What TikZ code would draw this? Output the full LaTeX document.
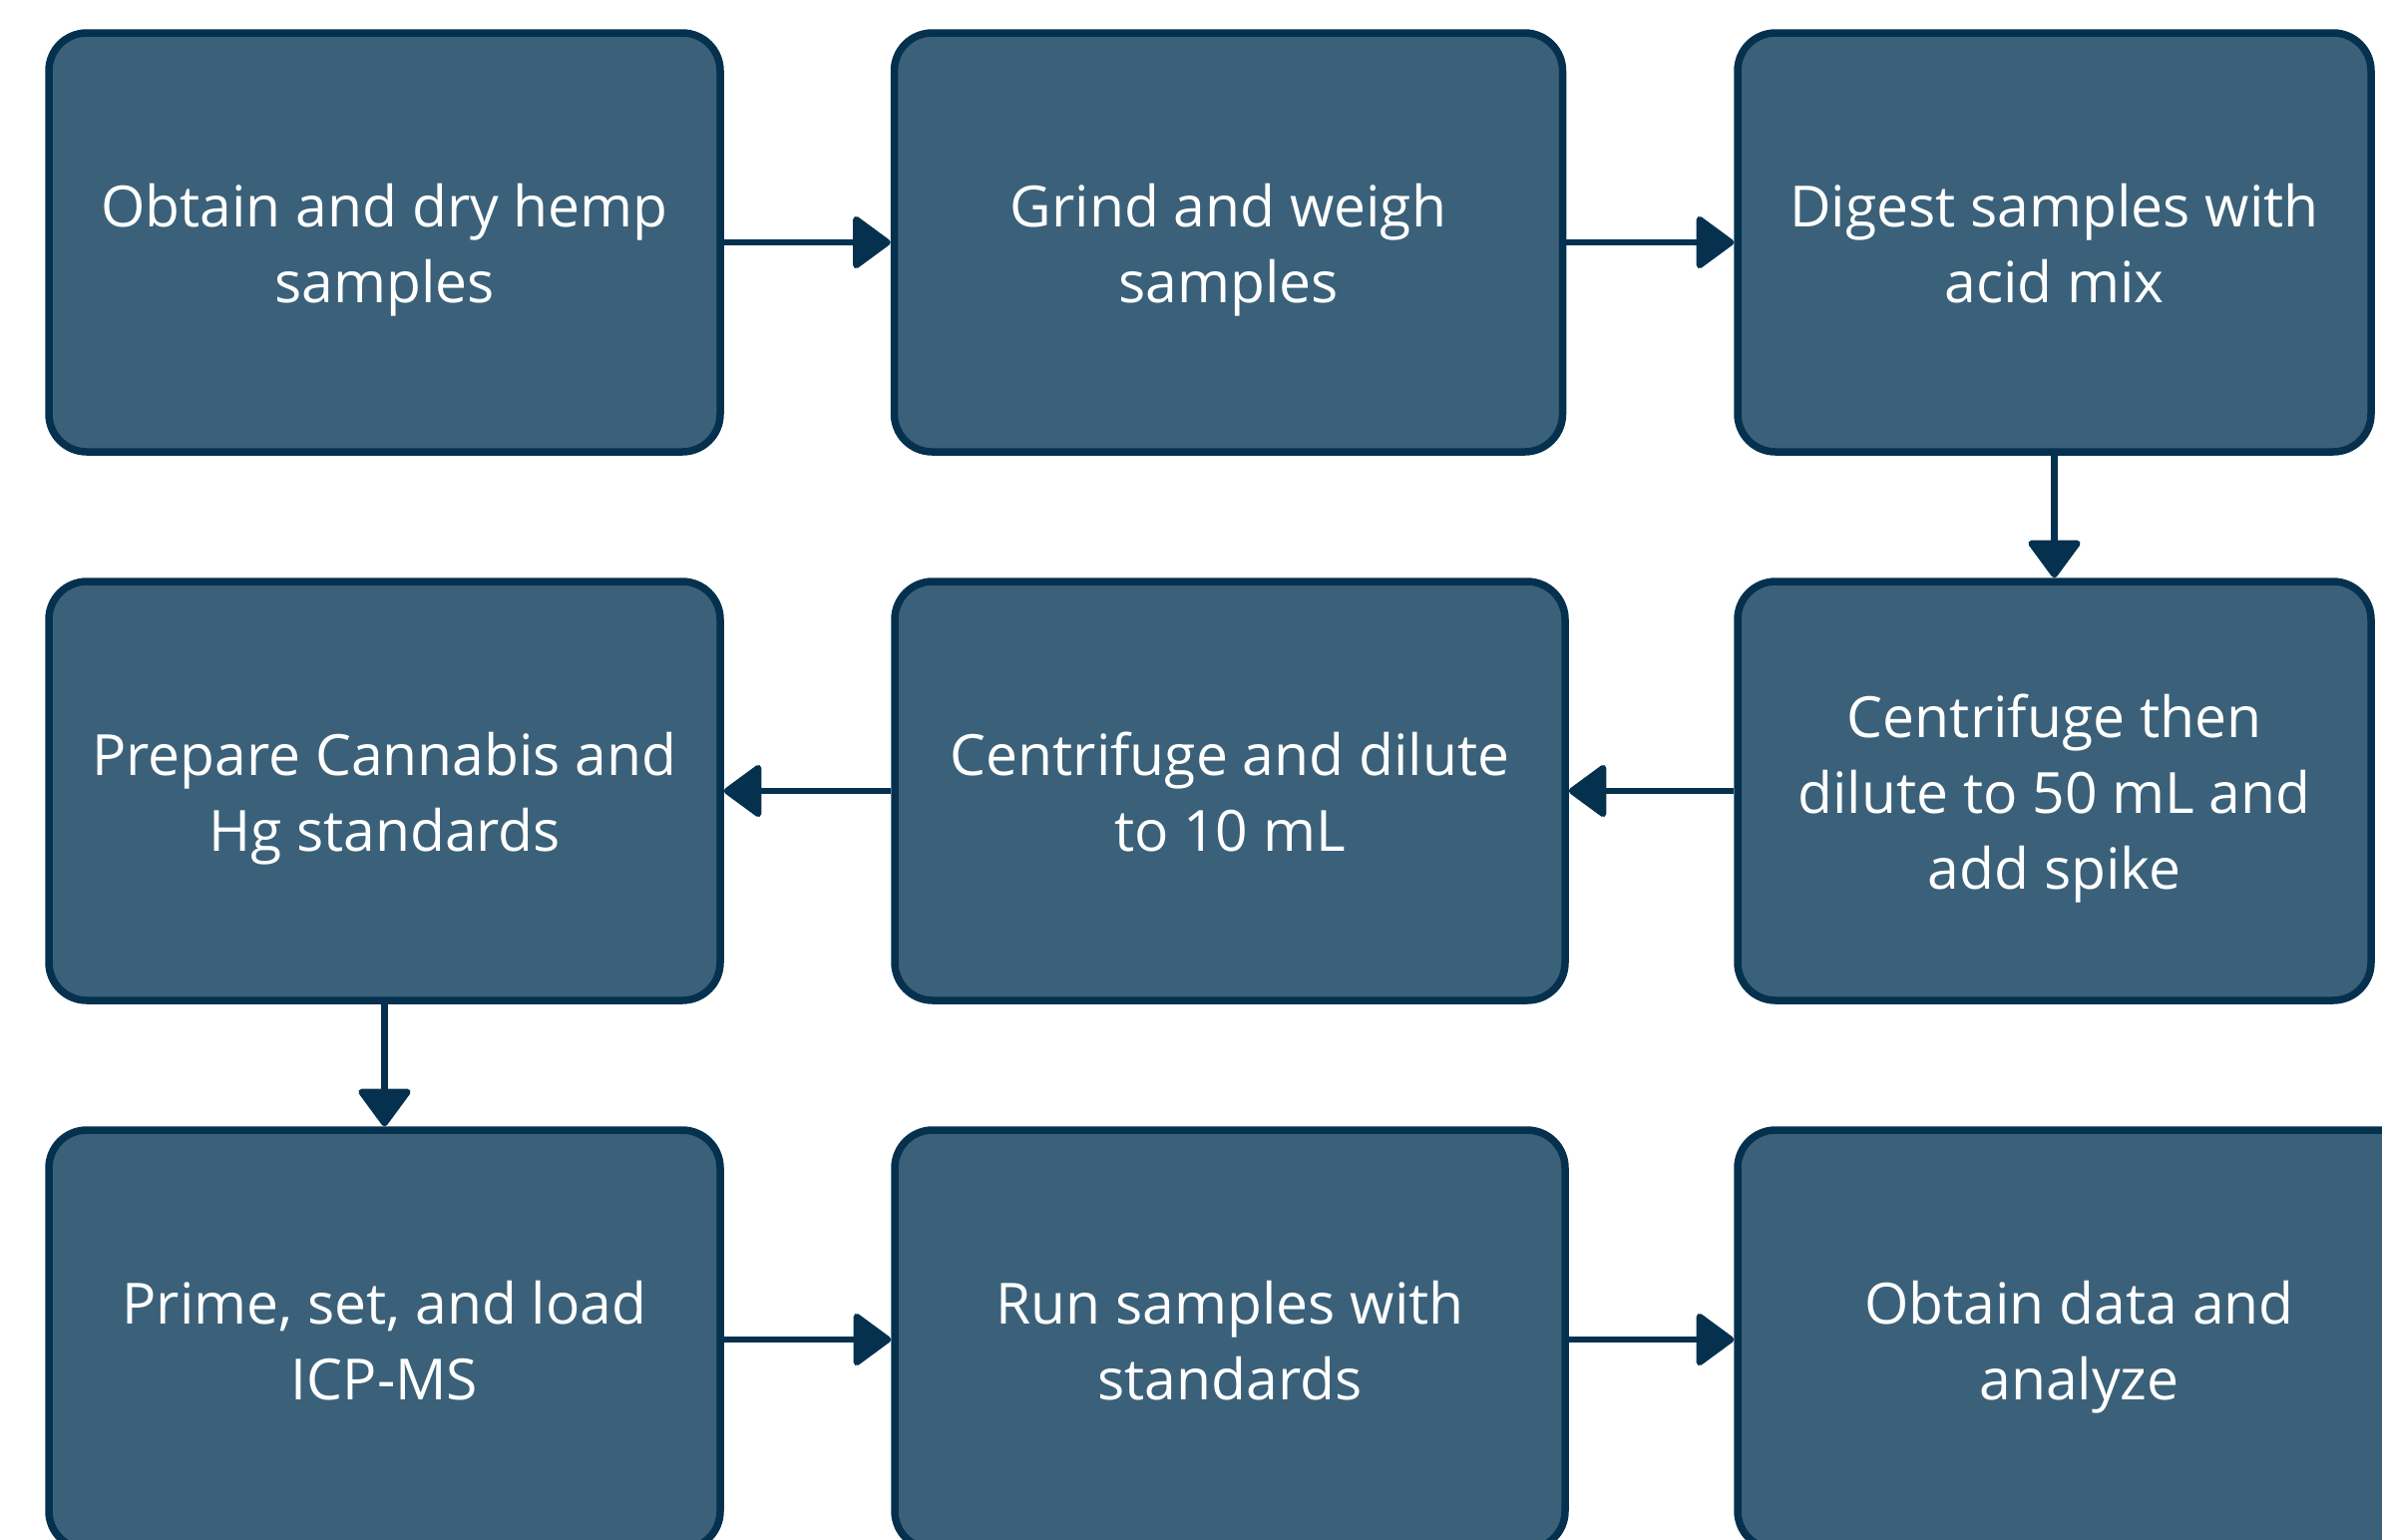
\documentclass[tikz,border=0pt]{standalone}
\usepackage{fontspec}
\setmainfont{Open Sans}
\usetikzlibrary{arrows.meta}
\definecolor{boxfill}{HTML}{3A6179}
\definecolor{boxline}{HTML}{05314F}
\newcommand{\tstrut}{\rule[-15.8pt]{0pt}{76pt}}
\tikzset{
  stepbox/.style={draw=boxline, fill=boxfill, line width=7.5pt, rounded corners=38pt,
    text=white, align=center, font=\fontsize{57}{76}\selectfont,
    minimum height=420pt, inner sep=0pt},
  flow/.style={draw=boxline, line width=6.5pt,
    -{Triangle[length=40pt,width=57pt,round]}}
}
\begin{document}
\begin{tikzpicture}[x=1pt,y=-1pt]
\useasboundingbox (0,0) rectangle (2388,1543);
\fill[white] (0,0) rectangle (2388,1543);
% row 1
\node[stepbox, minimum width=673pt] (b1) at (385.5,243) {\tstrut Obtain and dry hemp\\samples\tstrut};
\node[stepbox, minimum width=670pt] (b2) at (1231.5,243) {\tstrut Grind and weigh\\samples\tstrut};
\node[stepbox, minimum width=635pt] (b3) at (2059.5,243) {\tstrut Digest samples with\\acid mix\tstrut};
% row 2
\node[stepbox, minimum width=673pt] (b4) at (385.5,793) {\tstrut Prepare Cannabis and\\Hg standards\tstrut};
\node[stepbox, minimum width=672pt] (b5) at (1233,793) {\tstrut Centrifuge and dilute\\to 10 mL\tstrut};
\node[stepbox, minimum width=635pt] (b6) at (2059.5,793) {\tstrut Centrifuge then\\dilute to 50 mL and\\add spike\tstrut};
% row 3
\node[stepbox, minimum width=673pt] (b7) at (385.5,1343) {\tstrut Prime, set, and load\\ICP-MS\tstrut};
\node[stepbox, minimum width=672pt] (b8) at (1233,1343) {\tstrut Run samples with\\standards\tstrut};
\node[stepbox, minimum width=685pt] (b9) at (2084.5,1343) {\tstrut Obtain data and\\analyze\tstrut};
% connectors
\draw[flow] (b1) -- (b2);
\draw[flow] (b2) -- (b3);
\draw[flow] (b3) -- (b6);
\draw[flow] (b6) -- (b5);
\draw[flow] (b5) -- (b4);
\draw[flow] (b4) -- (b7);
\draw[flow] (b7) -- (b8);
\draw[flow] (b8) -- (b9);
\end{tikzpicture}
\end{document}
